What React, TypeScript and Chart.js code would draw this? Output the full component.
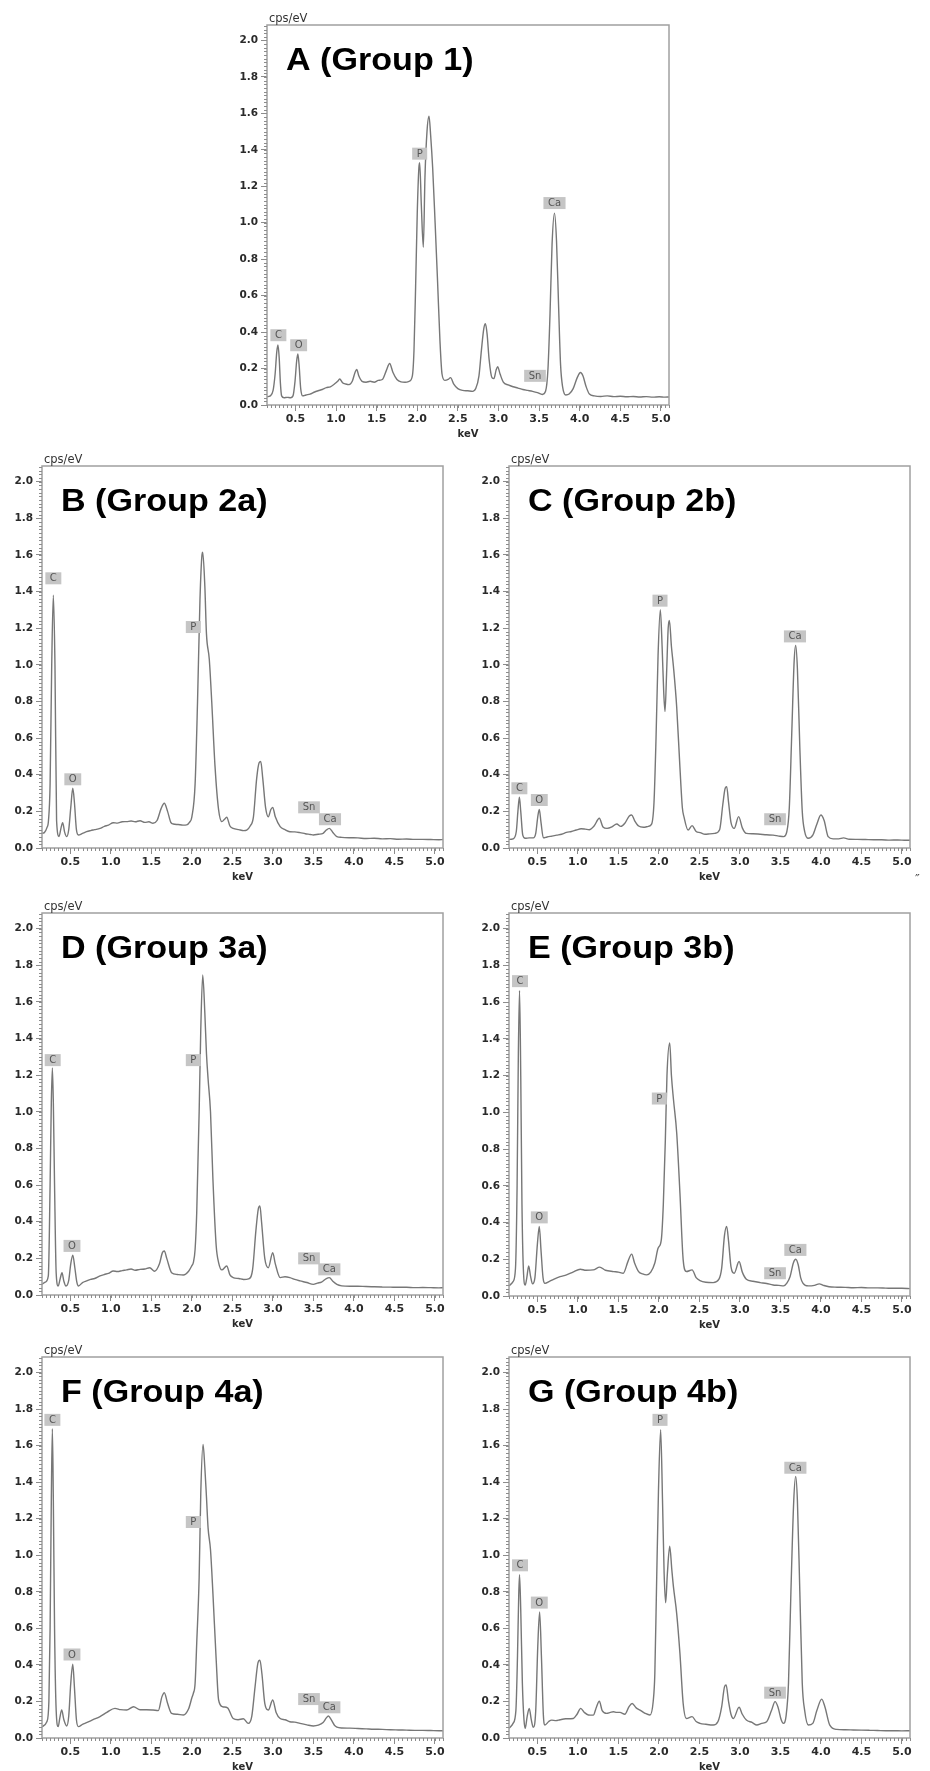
import React, { useEffect, useRef } from 'react';
import { Chart, registerables } from 'chart.js';

Chart.register(...registerables);

type Pt = [number, number];
type Tag = [string, number, number];

// ---------- data: [keV, cps/eV] ----------
const spectrumA: Pt[] = [
  [0.15,0.045],[0.19,0.05],[0.225,0.08],[0.25,0.17],[0.27,0.29],[0.285,0.33],[0.30,0.26],[0.315,0.12],[0.33,0.05],[0.36,0.04],[0.40,0.042],[0.44,0.04],[0.47,0.05],[0.495,0.13],[0.515,0.24],[0.53,0.28],[0.545,0.22],[0.565,0.09],[0.59,0.05],[0.63,0.055],[0.68,0.06],[0.73,0.07],[0.78,0.078],[0.83,0.085],[0.88,0.095],[0.93,0.1],[0.98,0.115],[1.02,0.13],[1.045,0.143],[1.08,0.122],[1.12,0.115],[1.16,0.112],[1.20,0.13],[1.235,0.18],[1.255,0.195],[1.28,0.16],[1.32,0.13],[1.37,0.125],[1.42,0.13],[1.47,0.125],[1.52,0.135],[1.57,0.14],[1.62,0.19],[1.66,0.228],[1.70,0.18],[1.75,0.14],[1.80,0.127],[1.85,0.125],[1.90,0.13],[1.94,0.16],[1.96,0.3],[1.98,0.65],[2.0,1.05],[2.02,1.3],[2.03,1.33],[2.05,1.1],[2.075,0.865],[2.095,1.25],[2.12,1.5],[2.145,1.585],[2.165,1.48],[2.19,1.3],[2.22,1.0],[2.25,0.68],[2.28,0.35],[2.305,0.17],[2.34,0.135],[2.38,0.14],[2.41,0.15],[2.45,0.115],[2.50,0.09],[2.56,0.08],[2.62,0.078],[2.68,0.075],[2.72,0.09],[2.76,0.16],[2.79,0.3],[2.82,0.42],[2.84,0.446],[2.86,0.39],[2.885,0.25],[2.92,0.15],[2.945,0.145],[2.97,0.19],[2.99,0.21],[3.02,0.17],[3.06,0.125],[3.12,0.11],[3.18,0.1],[3.24,0.093],[3.30,0.085],[3.36,0.08],[3.42,0.075],[3.48,0.068],[3.54,0.058],[3.58,0.075],[3.61,0.2],[3.635,0.5],[3.66,0.88],[3.69,1.053],[3.715,0.9],[3.74,0.55],[3.765,0.22],[3.79,0.1],[3.83,0.055],[3.87,0.06],[3.92,0.09],[3.97,0.15],[4.01,0.178],[4.04,0.16],[4.08,0.1],[4.12,0.06],[4.18,0.05],[4.26,0.047],[4.34,0.05],[4.42,0.046],[4.50,0.048],[4.58,0.045],[4.66,0.047],[4.74,0.044],[4.82,0.046],[4.90,0.043],[4.98,0.045],[5.05,0.043],[5.10,0.044],
];

const spectrumB: Pt[] = [
  [0.15,0.08],[0.18,0.085],[0.21,0.11],[0.23,0.15],[0.25,0.35],[0.27,1.0],[0.29,1.38],[0.31,1.0],[0.33,0.15],[0.36,0.063],[0.385,0.11],[0.405,0.138],[0.43,0.085],[0.455,0.062],[0.48,0.1],[0.505,0.22],[0.53,0.326],[0.55,0.25],[0.575,0.1],[0.60,0.071],[0.65,0.08],[0.70,0.089],[0.75,0.095],[0.80,0.1],[0.866,0.107],[0.92,0.118],[0.97,0.125],[1.03,0.138],[1.08,0.136],[1.14,0.143],[1.195,0.144],[1.25,0.147],[1.30,0.143],[1.36,0.149],[1.42,0.14],[1.47,0.143],[1.52,0.135],[1.57,0.15],[1.62,0.215],[1.66,0.244],[1.70,0.2],[1.74,0.14],[1.77,0.131],[1.83,0.128],[1.89,0.125],[1.936,0.126],[1.97,0.14],[2.0,0.17],[2.04,0.35],[2.07,0.8],[2.10,1.355],[2.125,1.6],[2.134,1.614],[2.16,1.43],[2.18,1.17],[2.215,1.03],[2.245,0.8],[2.286,0.444],[2.33,0.208],[2.37,0.144],[2.40,0.155],[2.43,0.168],[2.47,0.12],[2.51,0.107],[2.58,0.1],[2.64,0.095],[2.677,0.098],[2.72,0.12],[2.76,0.17],[2.80,0.38],[2.83,0.465],[2.85,0.472],[2.875,0.38],[2.91,0.22],[2.944,0.17],[2.975,0.21],[2.998,0.222],[3.03,0.17],[3.09,0.117],[3.15,0.1],[3.21,0.089],[3.27,0.088],[3.335,0.084],[3.40,0.078],[3.46,0.074],[3.50,0.071],[3.56,0.075],[3.62,0.08],[3.66,0.098],[3.697,0.107],[3.74,0.085],[3.79,0.062],[3.85,0.058],[3.95,0.056],[4.05,0.055],[4.15,0.052],[4.25,0.053],[4.35,0.05],[4.45,0.051],[4.55,0.048],[4.65,0.049],[4.75,0.047],[4.85,0.047],[4.95,0.046],[5.05,0.045],[5.10,0.046],
];

const spectrumC: Pt[] = [
  [0.15,0.047],[0.20,0.05],[0.24,0.09],[0.26,0.2],[0.278,0.277],[0.295,0.2],[0.32,0.07],[0.35,0.053],[0.40,0.055],[0.45,0.055],[0.48,0.08],[0.505,0.17],[0.524,0.211],[0.545,0.14],[0.574,0.055],[0.62,0.06],[0.68,0.065],[0.74,0.07],[0.80,0.075],[0.86,0.085],[0.92,0.09],[0.98,0.098],[1.04,0.105],[1.09,0.103],[1.14,0.1],[1.20,0.12],[1.265,0.162],[1.31,0.115],[1.36,0.107],[1.42,0.115],[1.48,0.131],[1.53,0.118],[1.58,0.135],[1.635,0.175],[1.665,0.18],[1.70,0.15],[1.75,0.12],[1.81,0.113],[1.87,0.118],[1.91,0.13],[1.94,0.25],[1.965,0.6],[1.99,1.05],[2.018,1.3],[2.04,1.1],[2.06,0.85],[2.076,0.745],[2.095,0.95],[2.115,1.2],[2.13,1.242],[2.155,1.1],[2.18,0.99],[2.22,0.77],[2.26,0.44],[2.29,0.22],[2.31,0.17],[2.36,0.098],[2.41,0.122],[2.46,0.09],[2.51,0.084],[2.57,0.075],[2.63,0.077],[2.69,0.08],[2.75,0.1],[2.79,0.24],[2.815,0.32],[2.837,0.335],[2.86,0.25],[2.89,0.14],[2.93,0.107],[2.985,0.171],[3.03,0.11],[3.08,0.08],[3.16,0.078],[3.25,0.075],[3.33,0.072],[3.41,0.07],[3.48,0.065],[3.54,0.062],[3.58,0.09],[3.61,0.22],[3.64,0.62],[3.67,1.02],[3.689,1.106],[3.71,0.98],[3.74,0.55],[3.77,0.2],[3.80,0.09],[3.845,0.053],[3.90,0.07],[3.95,0.13],[4.0,0.18],[4.04,0.15],[4.09,0.062],[4.15,0.05],[4.22,0.05],[4.28,0.055],[4.35,0.048],[4.45,0.047],[4.55,0.046],[4.65,0.045],[4.75,0.045],[4.85,0.043],[4.95,0.044],[5.05,0.042],[5.10,0.042],
];

const spectrumD: Pt[] = [
  [0.15,0.058],[0.19,0.07],[0.228,0.104],[0.25,0.6],[0.265,1.05],[0.278,1.239],[0.29,1.05],[0.305,0.6],[0.325,0.12],[0.35,0.049],[0.375,0.09],[0.397,0.122],[0.42,0.075],[0.446,0.049],[0.48,0.08],[0.505,0.17],[0.53,0.217],[0.555,0.15],[0.58,0.07],[0.60,0.049],[0.65,0.068],[0.70,0.077],[0.75,0.085],[0.80,0.09],[0.866,0.104],[0.92,0.112],[0.97,0.118],[1.03,0.131],[1.08,0.128],[1.14,0.133],[1.195,0.137],[1.25,0.142],[1.30,0.135],[1.36,0.14],[1.42,0.142],[1.48,0.149],[1.54,0.13],[1.60,0.17],[1.635,0.23],[1.66,0.24],[1.69,0.2],[1.75,0.122],[1.82,0.112],[1.895,0.109],[1.96,0.13],[2.0,0.16],[2.018,0.177],[2.04,0.25],[2.06,0.45],[2.09,1.0],[2.11,1.45],[2.134,1.747],[2.16,1.54],[2.18,1.32],[2.20,1.18],[2.23,1.0],[2.26,0.63],[2.30,0.27],[2.33,0.177],[2.37,0.137],[2.43,0.158],[2.47,0.11],[2.51,0.095],[2.58,0.09],[2.64,0.085],[2.70,0.088],[2.75,0.14],[2.79,0.35],[2.82,0.47],[2.84,0.486],[2.86,0.4],[2.90,0.2],[2.944,0.149],[2.998,0.231],[3.03,0.17],[3.09,0.095],[3.15,0.1],[3.21,0.095],[3.27,0.085],[3.335,0.077],[3.42,0.068],[3.50,0.058],[3.55,0.065],[3.60,0.07],[3.66,0.09],[3.697,0.095],[3.74,0.075],[3.79,0.058],[3.85,0.05],[3.95,0.048],[4.05,0.048],[4.15,0.046],[4.25,0.045],[4.35,0.044],[4.45,0.043],[4.55,0.042],[4.65,0.042],[4.75,0.04],[4.85,0.041],[4.95,0.04],[5.05,0.039],[5.10,0.04],
];

const spectrumE: Pt[] = [
  [0.15,0.055],[0.20,0.078],[0.23,0.15],[0.25,0.6],[0.265,1.3],[0.28,1.663],[0.295,1.2],[0.31,0.5],[0.33,0.12],[0.35,0.06],[0.37,0.1],[0.393,0.164],[0.415,0.11],[0.44,0.066],[0.47,0.1],[0.50,0.28],[0.524,0.379],[0.545,0.25],[0.57,0.1],[0.594,0.069],[0.65,0.08],[0.70,0.091],[0.78,0.105],[0.86,0.115],[0.94,0.13],[1.03,0.146],[1.10,0.14],[1.19,0.142],[1.27,0.157],[1.34,0.14],[1.44,0.133],[1.50,0.13],[1.56,0.124],[1.62,0.19],[1.664,0.228],[1.70,0.18],[1.75,0.133],[1.80,0.12],[1.85,0.115],[1.90,0.13],[1.95,0.18],[1.99,0.26],[2.03,0.306],[2.055,0.5],[2.08,0.85],[2.10,1.2],[2.134,1.377],[2.155,1.2],[2.18,1.071],[2.22,0.889],[2.26,0.561],[2.30,0.197],[2.34,0.133],[2.41,0.142],[2.46,0.1],[2.508,0.084],[2.58,0.075],[2.67,0.073],[2.74,0.09],[2.775,0.15],[2.81,0.33],[2.837,0.379],[2.86,0.3],[2.89,0.16],[2.93,0.124],[2.99,0.188],[3.03,0.13],[3.08,0.091],[3.16,0.08],[3.25,0.073],[3.33,0.068],[3.41,0.06],[3.48,0.058],[3.54,0.055],[3.58,0.07],[3.62,0.106],[3.66,0.18],[3.69,0.2],[3.72,0.17],[3.75,0.1],[3.78,0.069],[3.845,0.055],[3.92,0.058],[3.98,0.066],[4.03,0.058],[4.10,0.05],[4.20,0.048],[4.30,0.047],[4.40,0.045],[4.50,0.046],[4.60,0.044],[4.70,0.044],[4.80,0.043],[4.90,0.042],[5.00,0.042],[5.10,0.04],
];

const spectrumF: Pt[] = [
  [0.15,0.062],[0.21,0.089],[0.235,0.2],[0.25,0.6],[0.265,1.3],[0.278,1.692],[0.29,1.3],[0.305,0.6],[0.325,0.15],[0.35,0.062],[0.37,0.11],[0.393,0.153],[0.42,0.1],[0.455,0.066],[0.48,0.12],[0.505,0.3],[0.53,0.404],[0.55,0.28],[0.575,0.1],[0.60,0.062],[0.65,0.075],[0.70,0.084],[0.78,0.1],[0.866,0.117],[0.95,0.14],[1.05,0.162],[1.12,0.155],[1.195,0.153],[1.28,0.171],[1.36,0.155],[1.44,0.155],[1.52,0.153],[1.586,0.15],[1.63,0.225],[1.66,0.248],[1.70,0.19],[1.75,0.135],[1.82,0.13],[1.895,0.126],[1.96,0.16],[2.0,0.22],[2.018,0.244],[2.04,0.3],[2.06,0.52],[2.09,0.88],[2.11,1.34],[2.138,1.607],[2.16,1.48],[2.18,1.32],[2.20,1.15],[2.23,1.03],[2.26,0.79],[2.30,0.43],[2.33,0.208],[2.38,0.171],[2.44,0.165],[2.51,0.107],[2.57,0.1],[2.636,0.105],[2.697,0.08],[2.74,0.12],[2.78,0.28],[2.815,0.41],[2.84,0.426],[2.865,0.35],[2.90,0.19],[2.944,0.153],[2.998,0.208],[3.04,0.14],[3.09,0.107],[3.15,0.1],[3.21,0.089],[3.27,0.087],[3.335,0.08],[3.42,0.072],[3.50,0.066],[3.56,0.07],[3.62,0.085],[3.66,0.11],[3.685,0.12],[3.72,0.1],[3.76,0.07],[3.79,0.06],[3.85,0.055],[3.95,0.054],[4.05,0.052],[4.15,0.05],[4.25,0.048],[4.35,0.047],[4.45,0.045],[4.55,0.044],[4.65,0.043],[4.75,0.042],[4.85,0.042],[4.95,0.041],[5.05,0.04],[5.10,0.04],
];

const spectrumG: Pt[] = [
  [0.15,0.053],[0.20,0.08],[0.235,0.15],[0.255,0.45],[0.27,0.78],[0.28,0.894],[0.295,0.7],[0.315,0.3],[0.335,0.1],[0.35,0.053],[0.375,0.12],[0.40,0.162],[0.425,0.1],[0.45,0.058],[0.48,0.15],[0.505,0.5],[0.528,0.69],[0.55,0.45],[0.575,0.12],[0.594,0.071],[0.64,0.09],[0.677,0.098],[0.73,0.095],[0.78,0.1],[0.85,0.105],[0.944,0.107],[0.99,0.13],[1.035,0.162],[1.08,0.14],[1.13,0.126],[1.19,0.125],[1.23,0.17],[1.265,0.202],[1.30,0.15],[1.356,0.135],[1.40,0.14],[1.44,0.144],[1.48,0.14],[1.52,0.14],[1.58,0.13],[1.63,0.17],[1.67,0.189],[1.72,0.165],[1.767,0.153],[1.83,0.135],[1.89,0.126],[1.93,0.2],[1.95,0.35],[1.97,0.8],[1.995,1.35],[2.022,1.687],[2.045,1.3],[2.065,0.9],[2.084,0.74],[2.105,0.9],[2.134,1.049],[2.16,0.92],[2.18,0.827],[2.22,0.681],[2.26,0.463],[2.30,0.189],[2.34,0.107],[2.41,0.117],[2.46,0.09],[2.508,0.08],[2.58,0.075],[2.67,0.071],[2.73,0.09],[2.775,0.17],[2.81,0.28],[2.83,0.29],[2.86,0.2],[2.89,0.13],[2.92,0.107],[2.99,0.168],[3.03,0.13],[3.08,0.098],[3.15,0.085],[3.21,0.071],[3.27,0.08],[3.33,0.089],[3.39,0.15],[3.434,0.199],[3.47,0.17],[3.51,0.1],[3.537,0.08],[3.57,0.12],[3.60,0.3],[3.63,0.8],[3.665,1.3],[3.689,1.432],[3.71,1.3],[3.74,0.8],[3.77,0.3],[3.80,0.15],[3.845,0.071],[3.90,0.08],[3.95,0.15],[4.01,0.213],[4.05,0.17],[4.11,0.07],[4.195,0.047],[4.30,0.045],[4.40,0.044],[4.50,0.043],[4.60,0.042],[4.70,0.041],[4.80,0.04],[4.90,0.04],[5.00,0.039],[5.10,0.04],
];

// element tags: [symbol, keV, cps/eV] (box centre)
const tagsA: Tag[] = [['C',0.29,0.383],['O',0.54,0.328],['P',2.03,1.379],['Ca',3.69,1.108],['Sn',3.45,0.16]];
const tagsB: Tag[] = [['C',0.29,1.472],['O',0.53,0.375],['P',2.018,1.206],['Sn',3.446,0.222],['Ca',3.705,0.157]];
const tagsC: Tag[] = [['C',0.278,0.326],['O',0.524,0.262],['P',2.014,1.35],['Ca',3.68,1.155],['Sn',3.434,0.157]];
const tagsD: Tag[] = [['C',0.282,1.282],['O',0.52,0.268],['P',2.018,1.282],['Sn',3.446,0.2],['Ca',3.697,0.14]];
const tagsE: Tag[] = [['C',0.286,1.714],['O',0.524,0.428],['P',2.006,1.075],['Ca',3.685,0.251],['Sn',3.434,0.124]];
const tagsF: Tag[] = [['C',0.278,1.741],['O',0.52,0.457],['P',2.018,1.182],['Sn',3.446,0.213],['Ca',3.697,0.168]];
const tagsG: Tag[] = [['C',0.286,0.945],['O',0.524,0.741],['P',2.014,1.741],['Ca',3.685,1.479],['Sn',3.434,0.248]];

const titles = ['A (Group 1)','B (Group 2a)','C (Group 2b)','D (Group 3a)','E (Group 3b)','F (Group 4a)','G (Group 4b)'];

// axis settings
const X_MIN = 0.15, X_MAX = 5.1, X_STEP = 0.5, X_MINOR = 0.05;
const Y_MIN = 0, Y_MAX = 2.085, Y_STEP = 0.2, Y_MINOR = 0.02;
const Y_UNIT = 'cps/eV';
const X_UNIT = 'keV';

// ---------- layout ----------
const AX_W = 40, PAD_T = 25, PAD_R = 12, AX_H = 40;
interface Layout { left: number; top: number; w: number; h: number }
const layouts: Layout[] = [
  { left: 267, top: 25, w: 402, h: 380 },
  { left: 42, top: 466, w: 401, h: 382 },
  { left: 509, top: 466, w: 401, h: 382 },
  { left: 42, top: 913, w: 401, h: 382 },
  { left: 509, top: 913, w: 401, h: 383 },
  { left: 42, top: 1357, w: 401, h: 381 },
  { left: 509, top: 1357, w: 401, h: 381 },
];
const spectra = [spectrumA, spectrumB, spectrumC, spectrumD, spectrumE, spectrumF, spectrumG];
const tagSets = [tagsA, tagsB, tagsC, tagsD, tagsE, tagsF, tagsG];

const decorPlugin = {
  id: 'decor',
  afterDatasetsDraw(chart: any, _args: any, opts: any) {
    const { ctx, chartArea: ca } = chart;
    const x = chart.scales.x, y = chart.scales.y;
    ctx.save();
    // frame
    ctx.strokeStyle = '#a0a0a0';
    ctx.lineWidth = 1.5;
    ctx.strokeRect(ca.left, ca.top, ca.right - ca.left, ca.bottom - ca.top);
    // minor ticks
    ctx.strokeStyle = '#8c8c8c';
    ctx.lineWidth = 1;
    ctx.beginPath();
    const ny = Math.floor((Y_MAX - Y_MIN) / Y_MINOR + 1e-6);
    for (let i = 0; i <= ny; i++) {
      const py = Math.round(y.getPixelForValue(Y_MIN + i * Y_MINOR)) + 0.5;
      ctx.moveTo(ca.left - 3, py);
      ctx.lineTo(ca.left, py);
    }
    const nx0 = Math.ceil(X_MIN / X_MINOR - 1e-6), nx1 = Math.floor(X_MAX / X_MINOR + 1e-6);
    for (let i = nx0; i <= nx1; i++) {
      const px = Math.round(x.getPixelForValue(i * X_MINOR)) + 0.5;
      ctx.moveTo(px, ca.bottom);
      ctx.lineTo(px, ca.bottom + 3);
    }
    ctx.stroke();
    // unit label
    ctx.fillStyle = '#333';
    ctx.font = '11.5px "DejaVu Sans"';
    ctx.textAlign = 'left';
    ctx.textBaseline = 'alphabetic';
    ctx.fillText(Y_UNIT, ca.left + 2, ca.top - 3);
    // title
    ctx.save();
    ctx.translate(ca.left + 19, ca.top + 45);
    ctx.scale(1.1, 1);
    ctx.fillStyle = '#000';
    ctx.font = 'bold 31px "Liberation Sans", Arial, sans-serif';
    ctx.fillText(opts.title, 0, 0);
    ctx.restore();
    // element tags
    ctx.font = '10px "DejaVu Sans"';
    ctx.textAlign = 'center';
    ctx.textBaseline = 'middle';
    for (const [sym, kv, c] of opts.tags as Tag[]) {
      const cx = x.getPixelForValue(kv), cy = y.getPixelForValue(c);
      const tw = ctx.measureText(sym).width + 9;
      ctx.fillStyle = '#c5c5c5';
      ctx.fillRect(cx - tw / 2, cy - 6, tw, 12);
      ctx.fillStyle = '#555';
      ctx.fillText(sym, cx, cy + 0.5);
    }
    ctx.restore();
  },
};

function Panel({ idx }: { idx: number }) {
  const ref = useRef<HTMLCanvasElement>(null);
  const L = layouts[idx];
  const cw = L.w + AX_W + PAD_R;
  const chh = L.h + PAD_T + AX_H;
  useEffect(() => {
    const chart = new Chart(ref.current!, {
      type: 'line',
      data: {
        datasets: [{
          data: spectra[idx].map(([kv, c]) => ({ x: kv, y: c })),
          borderColor: '#777777',
          borderWidth: 1.4,
          pointRadius: 0,
          fill: false,
          cubicInterpolationMode: 'monotone',
        }],
      },
      options: {
        animation: false,
        responsive: true,
        maintainAspectRatio: false,
        events: [],
        layout: { padding: { left: 0, top: PAD_T, right: PAD_R, bottom: 0 } },
        plugins: {
          legend: { display: false },
          tooltip: { enabled: false },
          decor: { title: titles[idx], tags: tagSets[idx] },
        } as any,
        scales: {
          x: {
            type: 'linear',
            min: X_MIN,
            max: X_MAX,
            afterFit: (s: any) => { s.height = AX_H; },
            border: { display: false },
            grid: { drawOnChartArea: false, drawTicks: true, tickLength: 6, tickColor: '#8c8c8c', tickWidth: 1 },
            ticks: {
              stepSize: X_STEP,
              includeBounds: false,
              autoSkip: false,
              maxRotation: 0,
              padding: 2,
              color: '#2a2a2a',
              font: { family: '"DejaVu Sans"', size: 11, weight: 'bold' },
              callback: (v: any) => Number(v).toFixed(1),
            },
            title: {
              display: true,
              text: X_UNIT,
              color: '#2a2a2a',
              font: { family: '"DejaVu Sans"', size: 10, weight: 'bold' },
              padding: { top: 0, bottom: 5 },
            },
          },
          y: {
            type: 'linear',
            min: Y_MIN,
            max: Y_MAX,
            afterFit: (s: any) => { s.width = AX_W; },
            border: { display: false },
            grid: { drawOnChartArea: false, drawTicks: true, tickLength: 6, tickColor: '#8c8c8c', tickWidth: 1 },
            ticks: {
              stepSize: Y_STEP,
              includeBounds: false,
              autoSkip: false,
              padding: 3,
              color: '#2a2a2a',
              font: { family: '"DejaVu Sans"', size: 10.5, weight: 'bold' },
              callback: (v: any) => Number(v).toFixed(1),
            },
          },
        },
      } as any,
      plugins: [decorPlugin],
    });
    return () => chart.destroy();
  }, [idx]);
  return (
    <div style={{ position: 'absolute', left: L.left - AX_W, top: L.top - PAD_T, width: cw, height: chh }}>
      <canvas ref={ref} />
    </div>
  );
}

export default function App() {
  return (
    <div style={{ position: 'absolute', left: 0, top: 0, width: 930, height: 1771, background: '#fff', overflow: 'hidden' }}>
      {titles.map((_, i) => <Panel key={i} idx={i} />)}
      <span style={{ position: 'absolute', left: 915, top: 871, fontSize: 13, fontFamily: '"DejaVu Sans"', color: '#444' }}>″</span>
    </div>
  );
}
